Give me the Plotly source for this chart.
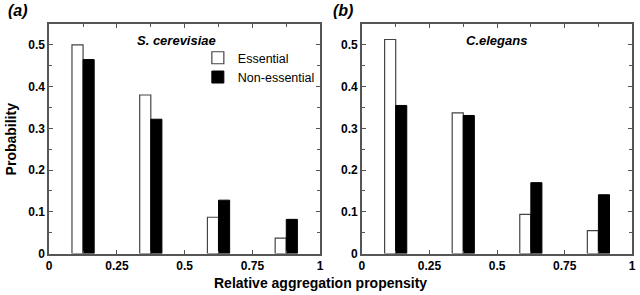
import plotly.graph_objects as go

bins = [0.125, 0.375, 0.625, 0.875]
x_tick_vals = [0, 0.25, 0.5, 0.75, 1]
x_tick_text = ["0", "0.25", "0.5", "0.75", "1"]
y_tick_vals = [0, 0.1, 0.2, 0.3, 0.4, 0.5]
y_tick_text = ["0", "0.1", "0.2", "0.3", "0.4", "0.5"]

scer_essential = [0.500, 0.380, 0.087, 0.037]
scer_nonessential = [0.465, 0.322, 0.128, 0.082]
cel_essential = [0.513, 0.337, 0.094, 0.055]
cel_nonessential = [0.355, 0.331, 0.170, 0.141]

FONT = "Arial, Liberation Sans, sans-serif"
W = 0.041
H_EFF = 287.0  # effective vertical extent observed in the rendered picture


def py(p):
    """paper y fraction for a pixel row p measured from the top"""
    return 1 - p / H_EFF


fig = go.Figure()


def add_pair(ess, non, xa, ya, show):
    fig.add_trace(go.Bar(x=bins, y=ess, width=W, offset=-W, name="Essential",
                         marker=dict(color="white", line=dict(color="#444", width=1.2)),
                         xaxis=xa, yaxis=ya, showlegend=show))
    fig.add_trace(go.Bar(x=bins, y=non, width=W, offset=0, name="Non-essential",
                         marker=dict(color="black", line=dict(color="black", width=1)),
                         xaxis=xa, yaxis=ya, showlegend=show))


add_pair(scer_essential, scer_nonessential, "x", "y", True)
add_pair(cel_essential, cel_nonessential, "x2", "y2", False)

axis_common = dict(showline=True, linecolor="#555", linewidth=1.5, mirror="ticks",
                   ticks="inside", ticklen=4, tickcolor="#555", tickwidth=1.2,
                   showgrid=False, zeroline=False,
                   tickfont=dict(family=FONT, size=12, color="black"))

xcommon = dict(axis_common, range=[0, 1], tickvals=x_tick_vals,
               ticktext=["<b>%s</b>" % t for t in x_tick_text],
               minor=dict(tickvals=[0.125, 0.375, 0.625, 0.875], ticks="inside",
                          ticklen=3, tickcolor="#555"))
ycommon = dict(axis_common, range=[0, 0.55], tickvals=y_tick_vals,
               ticktext=["<b>%s</b>" % t for t in y_tick_text],
               minor=dict(tickvals=[0.05, 0.15, 0.25, 0.35, 0.45], ticks="inside",
                          ticklen=3, tickcolor="#555"))

ydom = [py(252.7), py(24)]

fig.update_layout(
    width=640, height=295, autosize=False,
    margin=dict(l=0, r=0, t=0, b=0, pad=0),
    paper_bgcolor="white", plot_bgcolor="white",
    barmode="overlay",
    xaxis=dict(xcommon, domain=[0.073, 0.501], anchor="y"),
    yaxis=dict(ycommon, domain=ydom, anchor="x"),
    xaxis2=dict(xcommon, domain=[0.567, 0.994], anchor="y2"),
    yaxis2=dict(ycommon, domain=ydom, anchor="x2"),
    legend=dict(x=197 / 640, y=py(43), xanchor="left", yanchor="top",
                bgcolor="rgba(0,0,0,0)", font=dict(family=FONT, size=12.5, color="black"),
                tracegroupgap=0, itemwidth=30),
    font=dict(family=FONT),
    annotations=[
        dict(text="<b><i>(a)</i></b>", x=3 / 640, y=py(10), xref="paper", yref="paper",
             xanchor="left", yanchor="middle", showarrow=False, font=dict(size=16, color="black")),
        dict(text="<b><i>(b)</i></b>", x=332 / 640, y=py(10), xref="paper", yref="paper",
             xanchor="left", yanchor="middle", showarrow=False, font=dict(size=16, color="black")),
        dict(text="<b><i>S. cerevisiae</i></b>", x=175 / 640, y=py(40), xref="paper", yref="paper",
             xanchor="center", yanchor="middle", showarrow=False, font=dict(size=13, color="black")),
        dict(text="<b><i>C.elegans</i></b>", x=499 / 640, y=py(40), xref="paper", yref="paper",
             xanchor="center", yanchor="middle", showarrow=False, font=dict(size=13, color="black")),
        dict(text="<b>Relative aggregation propensity</b>", x=321 / 640, y=py(282),
             xref="paper", yref="paper", xanchor="center", yanchor="middle", showarrow=False,
             font=dict(size=14, color="black")),
        dict(text="<b>Probability</b>", x=9 / 640, y=py(138), textangle=-90,
             xref="paper", yref="paper", xanchor="center", yanchor="middle", showarrow=False,
             font=dict(size=14, color="black")),
    ],
)

css_fix = (
    "var s=document.createElement('style');"
    "s.innerHTML='html,body{margin:0;padding:0;overflow:hidden;}"
    ".plotly-graph-div{position:absolute !important;top:0;left:0;}';"
    "document.head.appendChild(s);"
)

fig.write_html("out.html", config={"displayModeBar": False, "responsive": False},
               post_script=css_fix)
